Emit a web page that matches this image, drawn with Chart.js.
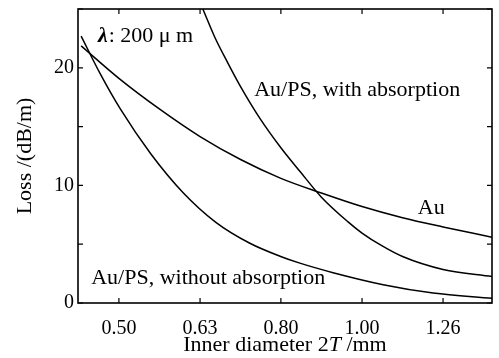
<!DOCTYPE html>
<html>
<head>
<meta charset="utf-8">
<script src="https://cdn.jsdelivr.net/npm/chart.js@4.4.1/dist/chart.umd.min.js"></script>
<style>
  body { margin: 0; background: #fff; }
  #wrap { width: 499px; height: 358px; }
</style>
</head>
<body>
<div id="wrap"><canvas id="lossChart" width="499" height="358"></canvas></div>
<script>
// 축 눈금
const xTickValues = [0.501, 0.631, 0.794, 1.0, 1.259];
const xTickLabels = ['0.50', '0.63', '0.80', '1.00', '1.26'];
const yTickLabels = [0, 10, 20];

// Au
const auDiam = [0.450, 0.501, 0.562, 0.631, 0.708, 0.794, 0.891, 1.0, 1.122, 1.259, 1.447];
const auLoss = [21.86, 19.1, 16.5, 14.15, 12.2, 10.6, 9.35, 8.2, 7.25, 6.47, 5.6];

// Au/PS, with absorption
const absDiam = [0.636, 0.658, 0.683, 0.708, 0.748, 0.794, 0.838, 0.891, 0.961, 1.0, 1.059, 1.122, 1.259, 1.447];
const absLoss = [25.0, 22.6, 20.4, 18.4, 15.7, 13.2, 11.2, 9.0, 6.9, 5.95, 4.85, 3.95, 2.85, 2.25];

// Au/PS, without absorption
const noAbsDiam = [0.450, 0.475, 0.503, 0.549, 0.601, 0.660, 0.727, 0.792, 0.838, 0.921, 1.062, 1.224, 1.447];
const noAbsLoss = [22.7, 19.5, 16.5, 12.65, 9.4, 6.86, 5.08, 3.98, 3.39, 2.58, 1.56, 0.85, 0.4];

const toPoints = (xs, ys) => xs.map((x, i) => ({ x: x, y: ys[i] }));

const serif = '"Liberation Serif", "Times New Roman", serif';

function lineSet(label, xs, ys) {
    return {
        label: label,
        data: toPoints(xs, ys),
        borderColor: '#000',
        borderWidth: 1.5,
        pointRadius: 0,
        fill: false,
        cubicInterpolationMode: 'monotone'
    };
}

// 안쪽 눈금과 테두리
const frameTicks = {
    id: 'frameTicks',
    afterDraw(chart) {
        const { ctx, chartArea: a, scales } = chart;
        const len = 5;
        ctx.save();
        ctx.strokeStyle = '#000';
        ctx.lineWidth = 1.2;
        ctx.beginPath();
        scales.x.ticks.forEach(t => {
            const px = scales.x.getPixelForValue(t.value);
            ctx.moveTo(px, a.bottom); ctx.lineTo(px, a.bottom - len);
            ctx.moveTo(px, a.top); ctx.lineTo(px, a.top + len);
        });
        scales.y.ticks.forEach(t => {
            const py = scales.y.getPixelForValue(t.value);
            ctx.moveTo(a.left, py); ctx.lineTo(a.left + len, py);
            ctx.moveTo(a.right, py); ctx.lineTo(a.right - len, py);
        });
        ctx.stroke();
        ctx.lineWidth = 1.6;
        ctx.strokeRect(a.left, a.top, a.right - a.left, a.bottom - a.top);
        ctx.restore();
    }
};

// 곡선 이름, x축 제목
const curveNotes = {
    id: 'curveNotes',
    afterDraw(chart) {
        const { ctx, scales, chartArea: a } = chart;
        const notes = [
            { x: 0.736, y: 18.1, text: 'Au/PS, with absorption' },
            { x: 1.172, y: 8.05, text: 'Au' },
            { x: 0.463, y: 2.1, text: 'Au/PS, without absorption' }
        ];
        ctx.save();
        ctx.fillStyle = '#000';
        ctx.textBaseline = 'middle';
        ctx.textAlign = 'left';
        ctx.font = '22px ' + serif;
        notes.forEach(n => {
            ctx.fillText(n.text, scales.x.getPixelForValue(n.x), scales.y.getPixelForValue(n.y));
        });

        // λ: 200 μm
        let px = scales.x.getPixelForValue(0.472);
        const py = scales.y.getPixelForValue(22.7);
        ctx.font = 'italic bold 22px ' + serif;
        ctx.fillText('λ', px, py);
        px += ctx.measureText('λ').width + 1;
        ctx.font = '22px ' + serif;
        ctx.fillText(': 200 μ m', px, py);

        // Inner diameter 2T /mm (T 기울임)
        const parts = [
            { t: 'Inner diameter 2', f: '22px ' + serif },
            { t: 'T', f: 'italic 22px ' + serif },
            { t: ' /mm', f: '22px ' + serif }
        ];
        let total = 0;
        parts.forEach(p => { ctx.font = p.f; p.w = ctx.measureText(p.t).width; total += p.w; });
        let tx = (a.left + a.right) / 2 - total / 2;
        const ty = chart.height - 13;
        parts.forEach(p => { ctx.font = p.f; ctx.fillText(p.t, tx, ty); tx += p.w; });
        ctx.restore();
    }
};

new Chart(document.getElementById('lossChart').getContext('2d'), {
    type: 'line',
    data: {
        datasets: [
            lineSet('Au', auDiam, auLoss),
            lineSet('Au/PS, with absorption', absDiam, absLoss),
            lineSet('Au/PS, without absorption', noAbsDiam, noAbsLoss)
        ]
    },
    options: {
        responsive: false,
        animation: false,
        layout: { padding: { top: 9, right: 7, left: 0, bottom: 0 } },
        plugins: {
            legend: { display: false },
            tooltip: { enabled: false }
        },
        scales: {
            x: {
                type: 'logarithmic',
                min: 0.446,
                max: 1.447,
                grid: { display: false, drawTicks: false },
                border: { display: false },
                afterBuildTicks: scale => { scale.ticks = xTickValues.map(v => ({ value: v })); },
                afterFit: scale => {
                    scale.height = 55;
                    scale.paddingLeft = 0;
                    scale.paddingRight = 0;
                },
                ticks: {
                    autoSkip: false,
                    maxRotation: 0,
                    padding: 14,
                    color: '#000',
                    font: { family: serif, size: 20 },
                    callback: (v, i) => xTickLabels[i]
                },
                title: { display: false }
            },
            y: {
                min: 0,
                max: 25,
                grid: { display: false, drawTicks: false },
                border: { display: false },
                afterFit: scale => {
                    scale.width = 78;
                    scale.paddingTop = 0;
                    scale.paddingBottom = 0;
                },
                ticks: {
                    stepSize: 5,
                    padding: 4,
                    color: '#000',
                    font: { family: serif, size: 20 },
                    callback: v => yTickLabels.includes(v) ? String(v) : ''
                },
                title: {
                    display: true,
                    text: 'Loss /(dB/m)',
                    color: '#000',
                    font: { family: serif, size: 22 },
                    padding: { top: 12, bottom: 0 }
                }
            }
        }
    },
    plugins: [frameTicks, curveNotes]
});
</script>
</body>
</html>
